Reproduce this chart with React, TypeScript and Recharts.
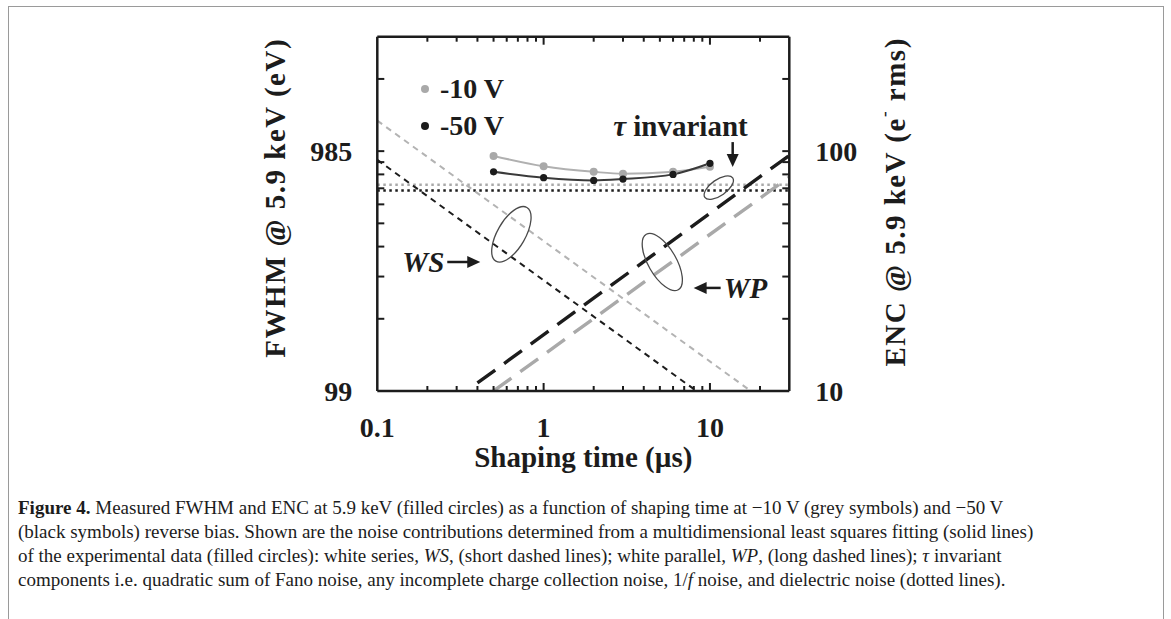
import React from "react"
import { ComposedChart, Line, XAxis, YAxis, ReferenceDot, Legend } from "recharts"

const SERIF = "'Liberation Serif', 'Times New Roman', serif"
const INK = "#1c1c1c"
const GREY = "#a9a9a9"

// measured ENC (e- rms) against shaping time (µs)
const shapingTimes = [0.5, 1, 2, 3, 6, 10]
const enc10V = [95.5, 86.5, 82, 80.5, 82, 86]
const enc50V = [82, 77.5, 75.5, 76.5, 80, 89]

// noise components, straight on log-log so only the end points are needed
const wsTimes10V = [0.1, 17.6]
const wsEnc10V = [134, 10]
const wsTimes50V = [0.1, 8.3]
const wsEnc50V = [92, 10]
const wpTimes10V = [0.5, 30]
const wpEnc10V = [10, 78]
const wpTimes50V = [0.4, 30]
const wpEnc50V = [10.8, 96]
const tauTimes = [0.1, 30]
const tauEnc10V = [72.5, 72.5]
const tauEnc50V = [68.5, 68.5]

const xTicks = [0.1, 0.2, 0.3, 0.4, 0.5, 0.6, 0.7, 0.8, 0.9, 1, 2, 3, 4, 5, 6, 7, 8, 9, 10, 20, 30]
const yTicks = [10, 20, 30, 40, 50, 60, 70, 80, 90, 100, 200, 300]
const xLabels: Record<string, string> = { "0.1": "0.1", "1": "1", "10": "10" }
const fwhmLabels: Record<string, string> = { "10": "99", "100": "985" }
const encLabels: Record<string, string> = { "10": "10", "100": "100" }

const legendItems = [
  { label: "-10 V", color: GREY },
  { label: "-50 V", color: INK },
]

const zip = (xs: number[], ys: number[]) => xs.map((x, i) => ({ x, y: ys[i] }))

const fit10V = zip(shapingTimes, enc10V)
const fit50V = zip(shapingTimes, enc50V)

const tickFont = { fontFamily: SERIF, fontWeight: 700, fontSize: 28, fill: INK }
const axisLine = { stroke: INK, strokeWidth: 2.5 }

function BottomTick({ x, y, payload }: any) {
  const v = payload.value
  const len = v === 1 || v === 10 ? 8 : 5
  const label = xLabels[String(v)]
  return (
    <g>
      {v > 0.1 && v < 30 && <line x1={x} x2={x} y1={y} y2={y - len} stroke={INK} strokeWidth={2} />}
      {label && <text x={x} y={y + 46} textAnchor="middle" style={tickFont}>{label}</text>}
    </g>
  )
}

function TopTick({ x, y, payload }: any) {
  const v = payload.value
  const len = v === 1 || v === 10 ? 8 : 5
  if (v <= 0.1 || v >= 30) return <g />
  return <line x1={x} x2={x} y1={y} y2={y + len} stroke={INK} strokeWidth={2} />
}

function LeftTick({ x, y, payload }: any) {
  const v = payload.value
  const label = fwhmLabels[String(v)]
  return (
    <g>
      {v > 10 && v < 300 && <line x1={x} x2={x + 7} y1={y} y2={y} stroke={INK} strokeWidth={2} />}
      {label && <text x={x - 25} y={y} textAnchor="end" dominantBaseline="central" style={tickFont}>{label}</text>}
    </g>
  )
}

function RightTick({ x, y, payload }: any) {
  const v = payload.value
  const label = encLabels[String(v)]
  return (
    <g>
      {v > 10 && v < 300 && <line x1={x} x2={x - 7} y1={y} y2={y} stroke={INK} strokeWidth={2} />}
      {label && <text x={x + 26} y={y} textAnchor="start" dominantBaseline="central" style={tickFont}>{label}</text>}
    </g>
  )
}

const titleFont = { fontFamily: SERIF, fontWeight: 700, fontSize: 29, fill: INK }

function XTitle({ viewBox }: any) {
  if (!viewBox) return null
  return (
    <text x={viewBox.x + viewBox.width / 2} y={viewBox.y + 76} textAnchor="middle" style={titleFont}>
      Shaping time (µs)
    </text>
  )
}

function LeftTitle({ viewBox }: any) {
  if (!viewBox) return null
  const cx = viewBox.x + viewBox.width - 102
  const cy = viewBox.y + viewBox.height / 2 - 16
  return (
    <text x={cx} y={cy} transform={`rotate(-90 ${cx} ${cy})`} textAnchor="middle" dominantBaseline="central" style={{ ...titleFont, letterSpacing: 1.5 }}>
      FWHM @ 5.9 keV (eV)
    </text>
  )
}

function RightTitle({ viewBox }: any) {
  if (!viewBox) return null
  const cx = viewBox.x + 106
  const cy = viewBox.y + viewBox.height / 2 - 12
  return (
    <text x={cx} y={cy} transform={`rotate(-90 ${cx} ${cy})`} textAnchor="middle" dominantBaseline="central" style={{ ...titleFont, letterSpacing: 1.5 }}>
      ENC @ 5.9 keV (e<tspan dy={-11} fontSize={17}>-</tspan><tspan dy={11}> rms)</tspan>
    </text>
  )
}

const ellipse = (rx: number, ry: number, angle: number) => (p: any) => (
  <ellipse cx={p.cx} cy={p.cy} rx={rx} ry={ry} transform={`rotate(${angle} ${p.cx} ${p.cy})`} fill="none" stroke="#4a4a4a" strokeWidth={1.3} />
)

const noteFont = { fontFamily: SERIF, fontWeight: 700, fontSize: 29, fill: INK }

function WsNote(p: any) {
  const { cx, cy } = p
  return (
    <g>
      <line x1={cx - 33} x2={cx - 10} y1={cy} y2={cy} stroke={INK} strokeWidth={2.5} />
      <polygon points={`${cx},${cy} ${cx - 13},${cy - 6} ${cx - 13},${cy + 6}`} fill={INK} />
      <text x={cx - 36} y={cy + 10} textAnchor="end" style={{ ...noteFont, fontStyle: "italic" }}>WS</text>
    </g>
  )
}

function WpNote(p: any) {
  const { cx, cy } = p
  return (
    <g>
      <line x1={cx + 10} x2={cx + 27} y1={cy} y2={cy} stroke={INK} strokeWidth={2.5} />
      <polygon points={`${cx},${cy} ${cx + 13},${cy - 6} ${cx + 13},${cy + 6}`} fill={INK} />
      <text x={cx + 30} y={cy + 10} textAnchor="start" style={{ ...noteFont, fontStyle: "italic" }}>WP</text>
    </g>
  )
}

function TauNote(p: any) {
  const { cx, cy } = p
  return (
    <g>
      <line x1={cx} x2={cx} y1={cy - 25} y2={cy - 10} stroke={INK} strokeWidth={2.5} />
      <polygon points={`${cx},${cy} ${cx - 6},${cy - 13} ${cx + 6},${cy - 13}`} fill={INK} />
      <text x={cx + 15} y={cy - 31} textAnchor="end" style={noteFont}>
        <tspan fontStyle="italic">τ</tspan> invariant
      </text>
    </g>
  )
}

function LegendBox() {
  return (
    <div style={{ fontFamily: SERIF, fontWeight: 700, fontSize: 28, color: INK }}>
      {legendItems.map((it) => (
        <div key={it.label} style={{ height: 37, lineHeight: "37px", whiteSpace: "nowrap", display: "flex", alignItems: "center" }}>
          <span style={{ display: "inline-block", width: 8, height: 8, borderRadius: 4, background: it.color, marginRight: 11 }} />
          {it.label}
        </div>
      ))}
    </div>
  )
}

const captionLines = [
  <><b>Figure 4.</b> Measured FWHM and ENC at 5.9 keV (filled circles) as a function of shaping time at −10 V (grey symbols) and −50 V</>,
  <>(black symbols) reverse bias. Shown are the noise contributions determined from a multidimensional least squares fitting (solid lines)</>,
  <>of the experimental data (filled circles): white series, <i>WS</i>, (short dashed lines); white parallel, <i>WP</i>, (long dashed lines); <i>τ</i> invariant</>,
  <>components i.e. quadratic sum of Fano noise, any incomplete charge collection noise, 1/<i>f</i> noise, and dielectric noise (dotted lines).</>,
]

export default function App() {
  return (
    <div style={{ position: "absolute", left: 0, top: 0, width: 1171, height: 619, overflow: "hidden", background: "#fff" }}>
      <div style={{ position: "absolute", left: 8, top: 6, width: 1154, height: 700, border: "1.5px solid #9a9a9a" }} />
      <div style={{ position: "absolute", left: 0, top: 0 }}>
        <ComposedChart width={1171} height={481} margin={{ top: 26.7, right: 170.3, bottom: 0, left: 172.7 }}>
          <XAxis xAxisId="b" dataKey="x" type="number" scale="log" domain={[0.1, 30]} allowDataOverflow ticks={xTicks} interval={0}
            tickLine={false} tickSize={0} tickMargin={0} tick={(p: any) => <BottomTick {...p} />} height={90} axisLine={axisLine}
            label={<XTitle />} />
          <XAxis xAxisId="t" orientation="top" dataKey="x" type="number" scale="log" domain={[0.1, 30]} allowDataOverflow ticks={xTicks} interval={0}
            tickLine={false} tickSize={0} tickMargin={0} tick={(p: any) => <TopTick {...p} />} height={10} axisLine={axisLine} />
          <YAxis yAxisId="l" orientation="left" type="number" scale="log" domain={[10, 300]} allowDataOverflow ticks={yTicks} interval={0}
            tickLine={false} tickSize={0} tickMargin={0} tick={(p: any) => <LeftTick {...p} />} width={204.6} axisLine={axisLine}
            label={<LeftTitle />} />
          <YAxis yAxisId="r" orientation="right" type="number" scale="log" domain={[10, 300]} allowDataOverflow ticks={yTicks} interval={0}
            tickLine={false} tickSize={0} tickMargin={0} tick={(p: any) => <RightTick {...p} />} width={211.4} axisLine={axisLine}
            label={<RightTitle />} />
          <Legend layout="vertical" align="center" verticalAlign="middle" wrapperStyle={{ left: 421, top: 70, width: 120, height: 76 }}
            content={() => <LegendBox />} />

          <Line xAxisId="b" yAxisId="r" data={zip(tauTimes, tauEnc10V)} dataKey="y" name="τ invariant -10 V" stroke={GREY} strokeWidth={2.5}
            strokeDasharray="2.5 3.5" dot={false} activeDot={false} isAnimationActive={false} legendType="none" />
          <Line xAxisId="b" yAxisId="r" data={zip(tauTimes, tauEnc50V)} dataKey="y" name="τ invariant -50 V" stroke={INK} strokeWidth={2.5}
            strokeDasharray="2.5 3.5" dot={false} activeDot={false} isAnimationActive={false} legendType="none" />
          <Line xAxisId="b" yAxisId="r" data={zip(wsTimes10V, wsEnc10V)} dataKey="y" name="WS -10 V" stroke="#b3b3b3" strokeWidth={2}
            strokeDasharray="6 5" dot={false} activeDot={false} isAnimationActive={false} legendType="none" />
          <Line xAxisId="b" yAxisId="r" data={zip(wsTimes50V, wsEnc50V)} dataKey="y" name="WS -50 V" stroke={INK} strokeWidth={2}
            strokeDasharray="6 5" dot={false} activeDot={false} isAnimationActive={false} legendType="none" />
          <Line xAxisId="b" yAxisId="r" data={zip(wpTimes10V, wpEnc10V)} dataKey="y" name="WP -10 V" stroke={GREY} strokeWidth={3.4}
            strokeDasharray="22 11" dot={false} activeDot={false} isAnimationActive={false} legendType="none" />
          <Line xAxisId="b" yAxisId="r" data={zip(wpTimes50V, wpEnc50V)} dataKey="y" name="WP -50 V" stroke={INK} strokeWidth={3.4}
            strokeDasharray="22 11" dot={false} activeDot={false} isAnimationActive={false} legendType="none" />
          <Line xAxisId="b" yAxisId="r" data={fit10V} dataKey="y" name="-10 V" type="monotone" stroke="#b0b0b0" strokeWidth={2}
            dot={{ r: 4, fill: GREY, stroke: "none" }} activeDot={false} isAnimationActive={false} />
          <Line xAxisId="b" yAxisId="r" data={fit50V} dataKey="y" name="-50 V" type="monotone" stroke="#3a3a3a" strokeWidth={2}
            dot={{ r: 3.6, fill: INK, stroke: "none" }} activeDot={false} isAnimationActive={false} />

          <ReferenceDot xAxisId="b" yAxisId="r" x={0.64} y={45} ifOverflow="visible" shape={ellipse(31, 14, -60)} />
          <ReferenceDot xAxisId="b" yAxisId="r" x={5.17} y={34.5} ifOverflow="visible" shape={ellipse(32, 14, 60)} />
          <ReferenceDot xAxisId="b" yAxisId="r" x={11.3} y={70.4} ifOverflow="visible" shape={ellipse(17, 8, -35)} />
          <ReferenceDot xAxisId="b" yAxisId="r" x={0.416} y={34.5} ifOverflow="visible" shape={(p: any) => <WsNote {...p} />} />
          <ReferenceDot xAxisId="b" yAxisId="r" x={7.98} y={26.9} ifOverflow="visible" shape={(p: any) => <WpNote {...p} />} />
          <ReferenceDot xAxisId="b" yAxisId="r" x={13.7} y={85.8} ifOverflow="visible" shape={(p: any) => <TauNote {...p} />} />
        </ComposedChart>
      </div>
      <div style={{ position: "absolute", left: 18, top: 496, fontFamily: SERIF, fontSize: 19, lineHeight: "24px", color: INK }}>
        {captionLines.map((l, i) => (
          <div key={i} style={{ whiteSpace: "nowrap" }}>{l}</div>
        ))}
      </div>
    </div>
  )
}
